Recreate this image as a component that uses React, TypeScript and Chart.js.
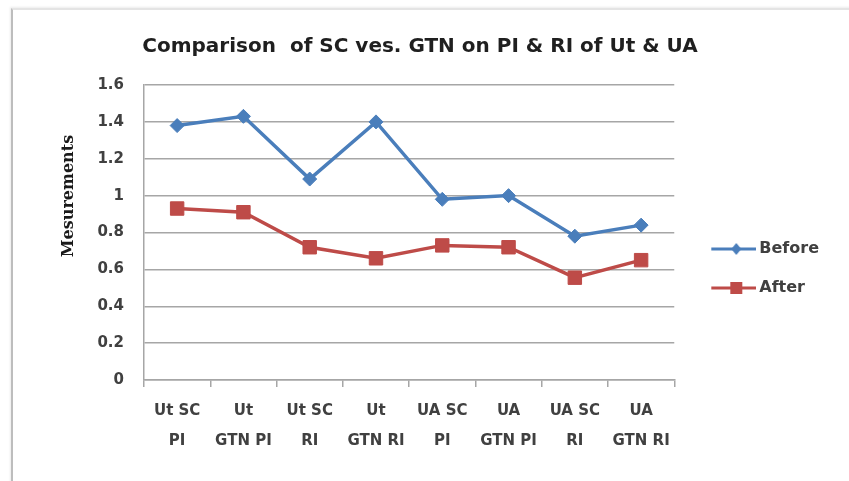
import { useEffect, useRef } from 'react';
import { Chart, registerables } from 'chart.js';

Chart.register(...registerables);

const categories: string[][] = [
  ['Ut SC', 'PI'],
  ['Ut', 'GTN PI'],
  ['Ut SC', 'RI'],
  ['Ut', 'GTN RI'],
  ['UA SC', 'PI'],
  ['UA', 'GTN PI'],
  ['UA SC', 'RI'],
  ['UA', 'GTN RI'],
];
const beforeValues = [1.38, 1.43, 1.09, 1.4, 0.98, 1.0, 0.78, 0.84];
const afterValues = [0.93, 0.91, 0.72, 0.66, 0.73, 0.72, 0.555, 0.65];
const seriesNames = ['Before', 'After'];
const yTickLabels = ['0', '0.2', '0.4', '0.6', '0.8', '1', '1.2', '1.4', '1.6'];
const chartTitle = 'Comparison  of SC ves. GTN on PI & RI of Ut & UA';
const yAxisTitle = 'Mesurements';

const BLUE = '#4a7ebb';
const RED = '#be4b48';
const GRID = '#a6a6a6';
const TEXT = '#404040';

function legendSwatch(color: string, kind: 'diamond' | 'square') {
  const c = document.createElement('canvas');
  c.width = 64;
  c.height = 18;
  const ctx = c.getContext('2d')!;
  ctx.strokeStyle = color;
  ctx.lineWidth = 3;
  ctx.beginPath();
  ctx.moveTo(19, 9);
  ctx.lineTo(64, 9);
  ctx.stroke();
  ctx.fillStyle = color;
  if (kind === 'diamond') {
    ctx.beginPath();
    ctx.moveTo(44, 3);
    ctx.lineTo(49, 9);
    ctx.lineTo(44, 15);
    ctx.lineTo(39, 9);
    ctx.closePath();
    ctx.fill();
  } else {
    ctx.fillRect(38, 3, 12, 12);
  }
  return c;
}

const yTitlePlugin = {
  id: 'yTitlePlugin',
  afterDraw(chart: any) {
    const { ctx, chartArea } = chart;
    ctx.save();
    ctx.translate(69, chartArea.top + 111);
    ctx.rotate(-Math.PI / 2);
    ctx.font = 'bold 16px "DejaVu Serif"';
    ctx.fillStyle = '#1a1a1a';
    ctx.textAlign = 'center';
    ctx.textBaseline = 'middle';
    ctx.fillText(yAxisTitle, 0, 0);
    ctx.restore();
  },
};

export default function App() {
  const canvasRef = useRef<HTMLCanvasElement | null>(null);

  useEffect(() => {
    if (!canvasRef.current) return;
    const swatches = [legendSwatch(BLUE, 'diamond'), legendSwatch(RED, 'square')];
    const tickFont = { family: 'DejaVu Sans', size: 15, weight: 'bold' as const };
    const chart = new Chart(canvasRef.current, {
      type: 'line',
      data: {
        labels: categories,
        datasets: [
          {
            label: seriesNames[0],
            data: beforeValues,
            borderColor: BLUE,
            backgroundColor: BLUE,
            borderWidth: 3.5,
            pointStyle: 'rectRot',
            pointRadius: 7,
            pointBorderWidth: 1,
            pointBackgroundColor: BLUE,
            tension: 0,
          },
          {
            label: seriesNames[1],
            data: afterValues,
            borderColor: RED,
            backgroundColor: RED,
            borderWidth: 3.5,
            pointStyle: 'rect',
            pointRadius: 9.5,
            pointBorderWidth: 1,
            pointBackgroundColor: RED,
            tension: 0,
          },
        ],
      },
      options: {
        animation: false,
        responsive: true,
        maintainAspectRatio: false,
        layout: { padding: { left: 11, right: 20, top: 0, bottom: 21 } },
        plugins: {
          title: {
            display: true,
            text: chartTitle,
            color: '#1f1f1f',
            font: { family: 'DejaVu Sans', size: 20, weight: 'bold' },
            padding: { top: 35, bottom: 26 },
          },
          legend: {
            position: 'right',
            fullSize: false,
            title: {
              display: true,
              text: '',
              font: { size: 10, lineHeight: 1.2 },
              padding: { top: 60, bottom: 0 },
            },
            labels: {
              usePointStyle: true,
              pointStyleWidth: 54,
              padding: 23,
              color: TEXT,
              font: { family: 'DejaVu Sans', size: 16, weight: 'bold' },
              generateLabels: (ch: any) => {
                const items = Chart.defaults.plugins.legend.labels.generateLabels(ch);
                items.forEach((it: any, i: number) => {
                  it.pointStyle = swatches[i];
                });
                return items;
              },
            },
          },
          tooltip: { enabled: false },
        },
        scales: {
          x: {
            type: 'category',
            offset: true,
            grid: {
              display: true,
              drawOnChartArea: false,
              drawTicks: true,
              tickLength: 7,
              color: GRID,
              lineWidth: 1.5,
              offset: true,
            },
            border: { color: GRID, width: 1.5 },
            ticks: {
              color: TEXT,
              font: { ...tickFont, lineHeight: 2.0 },
              padding: 9,
              maxRotation: 0,
              autoSkip: false,
            },
            afterFit: (s: any) => {
              s.height = 80;
            },
          },
          y: {
            min: 0,
            max: 1.6,
            ticks: {
              stepSize: 0.2,
              callback: (_v: any, i: number) => yTickLabels[i],
              padding: 20,
              color: TEXT,
              font: tickFont,
            },
            grid: { color: GRID, lineWidth: 1.5, drawTicks: false },
            border: { color: GRID, width: 1.5 },
            afterFit: (s: any) => {
              s.width = 133;
            },
          },
        },
      },
      plugins: [yTitlePlugin],
    });
    return () => chart.destroy();
  }, []);

  return (
    <div
      style={{
        position: 'absolute',
        left: 0,
        top: 0,
        width: 849,
        height: 481,
        background: '#ffffff',
        overflow: 'hidden',
      }}
    >
      <div
        style={{
          position: 'absolute',
          left: 11,
          top: 8,
          width: 900,
          height: 600,
          borderLeft: '2px solid #bdbdbd',
          borderTop: '2px solid #e4e4e4',
          boxShadow: '-1px -1px 2px rgba(0,0,0,0.08)',
        }}
      />
      <div style={{ position: 'absolute', left: 0, top: 0, width: 849, height: 481 }}>
        <canvas ref={canvasRef} />
      </div>
    </div>
  );
}
